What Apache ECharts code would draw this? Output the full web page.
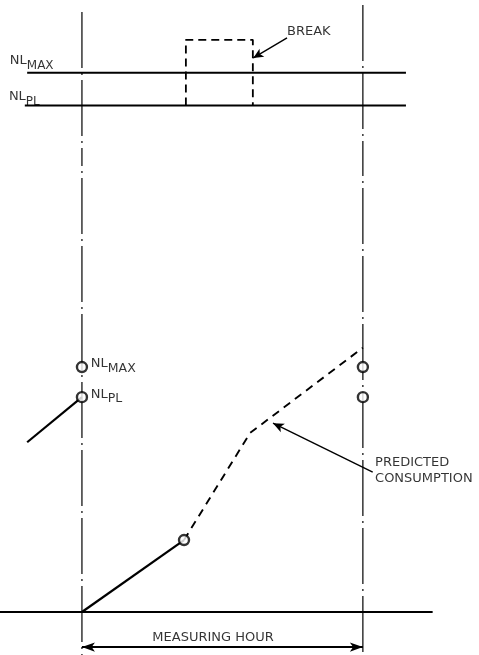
<!DOCTYPE html>
<html>
<head>
<meta charset="utf-8">
<script src="https://cdn.jsdelivr.net/npm/echarts@6/dist/echarts.min.js"></script>
<style>html,body{margin:0;padding:0;background:#fff}#c{width:479px;height:655px}</style>
</head>
<body>
<div id="c"></div>
<script>
// time axis in minutes: measuring hour runs 0..60
const hourBounds = [0, 60];
// power levels (top panel) and energy levels (bottom panel), same names
const levelNames = ['MAX', 'PL'];
const powerLevels = [114, 100];
const energyLevels = [114, 100];
const levelLineStart = [-11.7, -12.2];
const levelLineEnd = [69.2, 69.2];
// break in the load profile
const breakStart = 22.2;
const breakEnd = 36.5;
const breakPeak = 128;
// measured energy during the hour
const measuredX = [0, 21.8];
const measuredY = [0, 33.5];
// predicted consumption (dashed)
const predictedX = [21.8, 35.9, 60];
const predictedY = [33.5, 83.3, 123];
// previous hour tail
const previousX = [-11.7, 0];
const previousY = [79, 100];
// baseline extent
const baselineX = [-17.5, 74.9];

const FONT = 'DejaVu Sans';
const INK = '#000';

function pairs(xs, ys) { return xs.map((x, i) => [x, ys[i]]); }

const dashDot = [56, 5, 2, 5];

const xAxisBase = { type: 'value', min: -17.5, max: 84.8, show: false };

const series = [];

// ---------- TOP PANEL (grid 0) ----------
series.push({ type: 'line', xAxisIndex: 0, yAxisIndex: 0, data: [[hourBounds[0], 139.9], [hourBounds[0], 81]],
  symbol: 'none', lineStyle: { color: INK, width: 1.2, type: dashDot } });
series.push({ type: 'line', xAxisIndex: 0, yAxisIndex: 0, data: [[hourBounds[1], 142.9], [hourBounds[1], 81]],
  symbol: 'none', lineStyle: { color: INK, width: 1.2, type: dashDot } });
powerLevels.forEach((v, i) => {
  series.push({ type: 'line', xAxisIndex: 0, yAxisIndex: 0, data: [[levelLineStart[i], v], [levelLineEnd[i], v]],
    symbol: 'none', lineStyle: { color: INK, width: 2 } });
});
series.push({ type: 'line', xAxisIndex: 0, yAxisIndex: 0,
  data: [[breakStart, powerLevels[1]], [breakStart, breakPeak], [breakEnd, breakPeak], [breakEnd, powerLevels[1]]],
  symbol: 'none', lineStyle: { color: INK, width: 1.8, type: [8, 5] } });
series.push({ type: 'scatter', xAxisIndex: 0, yAxisIndex: 0, symbolSize: 0, silent: true,
  data: [
    { value: [-15.4, 118.2], name: levelNames[0] },
    { value: [-15.6, 102.8], name: levelNames[1] }
  ],
  label: { show: true, position: 'right', distance: 0, color: INK,
    formatter: p => '{n|NL}{s|' + p.name + '}',
    rich: { n: { fontSize: 13, fontFamily: FONT, color: INK, verticalAlign: 'top', lineHeight: 18 },
            s: { fontSize: 12, fontFamily: FONT, color: INK, verticalAlign: 'bottom', lineHeight: 18, padding: [6, 0, 0, 0] } } },
  markLine: { silent: true, symbol: ['none', 'arrow'], symbolSize: [7, 10],
    lineStyle: { color: INK, width: 1.4, type: 'solid' }, label: { show: false },
    data: [[{ coord: [43.8, 128.8] }, { coord: [36.6, 120.3] }]] }
});
series.push({ type: 'scatter', xAxisIndex: 0, yAxisIndex: 0, symbolSize: 0, silent: true,
  data: [{ value: [43.8, 131.4], name: 'BREAK' }],
  label: { show: true, position: 'right', distance: 0, color: INK, fontFamily: FONT, fontSize: 13,
    formatter: p => p.name } });

// ---------- BOTTOM PANEL (grid 1) ----------
series.push({ type: 'line', xAxisIndex: 1, yAxisIndex: 1, data: [[hourBounds[0], 215], [hourBounds[0], -20]],
  symbol: 'none', lineStyle: { color: INK, width: 1.2, type: dashDot, dashOffset: 40 } });
series.push({ type: 'line', xAxisIndex: 1, yAxisIndex: 1, data: [[hourBounds[1], 215], [hourBounds[1], -20]],
  symbol: 'none', lineStyle: { color: INK, width: 1.2, type: dashDot, dashOffset: 30 } });
series.push({ type: 'line', xAxisIndex: 1, yAxisIndex: 1, data: [[baselineX[0], 0], [baselineX[1], 0]],
  symbol: 'none', lineStyle: { color: INK, width: 1.8 } });
series.push({ type: 'line', xAxisIndex: 1, yAxisIndex: 1, data: pairs(previousX, previousY),
  symbol: 'none', lineStyle: { color: INK, width: 2.2 } });
series.push({ type: 'line', xAxisIndex: 1, yAxisIndex: 1, data: pairs(measuredX, measuredY),
  symbol: 'none', lineStyle: { color: INK, width: 2.2 } });
series.push({ type: 'line', xAxisIndex: 1, yAxisIndex: 1, data: pairs(predictedX, predictedY),
  symbol: 'none', lineStyle: { color: INK, width: 1.9, type: [8, 6] } });
const circlePts = [
  [hourBounds[0], energyLevels[0]], [hourBounds[0], energyLevels[1]],
  [hourBounds[1], energyLevels[0]], [hourBounds[1], energyLevels[1]],
  [measuredX[1], measuredY[1]]
];
series.push({ type: 'scatter', xAxisIndex: 1, yAxisIndex: 1, data: circlePts, symbol: 'circle', symbolSize: 10, z: 5,
  itemStyle: { color: '#fff', borderColor: INK, borderWidth: 2.4 } });
series.push({ type: 'scatter', xAxisIndex: 1, yAxisIndex: 1, symbolSize: 0, silent: true,
  data: [
    { value: [1.9, 114.2], name: levelNames[0] },
    { value: [1.9, 100.2], name: levelNames[1] }
  ],
  label: { show: true, position: 'right', distance: 0, color: INK,
    formatter: p => '{n|NL}{s|' + p.name + '}',
    rich: { n: { fontSize: 13, fontFamily: FONT, color: INK, verticalAlign: 'top', lineHeight: 18 },
            s: { fontSize: 12.5, fontFamily: FONT, color: INK, verticalAlign: 'bottom', lineHeight: 18, padding: [6, 0, 0, 0] } } }
});
series.push({ type: 'scatter', xAxisIndex: 1, yAxisIndex: 1, symbolSize: 0, silent: true,
  data: [{ value: [62.6, 65.6], name: 'PREDICTED\nCONSUMPTION' }],
  label: { show: true, position: 'right', distance: 0, color: INK, fontFamily: FONT, fontSize: 13, lineHeight: 16,
    formatter: p => p.name },
  markLine: { silent: true, symbol: ['none', 'arrow'], symbolSize: [7, 11],
    lineStyle: { color: INK, width: 1.4, type: 'solid' }, label: { show: false },
    data: [[{ coord: [62.1, 65.1] }, { coord: [40.8, 87.9] }]] }
});
series.push({ type: 'scatter', xAxisIndex: 1, yAxisIndex: 1, symbolSize: 0, silent: true,
  data: [{ value: [28, -12.1], name: 'MEASURING HOUR' }],
  label: { show: true, position: 'inside', color: INK, fontFamily: FONT, fontSize: 13, formatter: p => p.name },
  markLine: { silent: true, symbol: ['arrow', 'arrow'], symbolSize: [7, 13],
    lineStyle: { color: INK, width: 1.8, type: 'solid' }, label: { show: false },
    data: [[{ coord: [hourBounds[0], -16.3] }, { coord: [hourBounds[1], -16.3] }]] }
});

const chart = echarts.init(document.getElementById('c'), null, { renderer: 'canvas' });
chart.setOption({
  animation: false,
  backgroundColor: '#fff',
  grid: [
    { left: 0, right: 0, top: 0, height: 150 },
    { left: 0, right: 0, top: 150, height: 505 }
  ],
  xAxis: [Object.assign({ gridIndex: 0 }, xAxisBase), Object.assign({ gridIndex: 1 }, xAxisBase)],
  yAxis: [
    { type: 'value', gridIndex: 0, min: 81, max: 145, show: false },
    { type: 'value', gridIndex: 1, min: -20, max: 215, show: false }
  ],
  series: series
});
</script>
</body>
</html>
